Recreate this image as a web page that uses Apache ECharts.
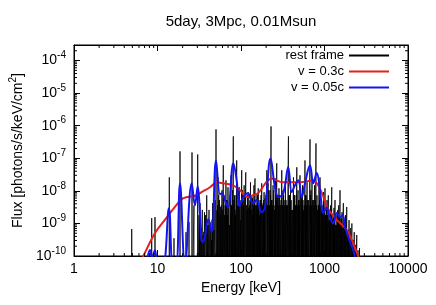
<!DOCTYPE html>
<html><head><meta charset="utf-8">
<script src="https://cdn.jsdelivr.net/npm/echarts@6/dist/echarts.min.js"></script>
<style>html,body{margin:0;padding:0;background:#fff}#c{width:436px;height:305px}</style>
</head><body><div id="c"></div>
<script>
const titleText = '5day, 3Mpc, 0.01Msun';
const seriesNames = ['rest frame', 'v = 0.3c', 'v = 0.05c'];
const xTickLabels = ['1', '10', '100', '1000', '10000'];
const xMin = 1, xMax = 10000;
const yMin = 1e-10, yMax = 3e-4;
const minorMantissas = [2, 3, 4, 5, 6, 7, 8, 9];
const xDecades = [1, 10, 100, 1000];
const yDecades = [1e-10, 1e-9, 1e-8, 1e-7, 1e-6, 1e-5, 1e-4];

// rest frame line spectrum: strong lines, energies (keV) and peak fluxes
const restE = [4.91, 8.52, 9.33, 13.85, 15.76, 18.6, 21.95, 23.84, 25.9, 27.36, 30.29,
  31.4, 32.3, 33.65, 35.1, 36.55, 38.85, 40.3, 42.5, 44.3, 45.7, 47.5, 50.2, 51.6, 53.0, 55.3, 57.1, 59.2, 61.4, 63.4, 66.1, 68.0, 69.9, 72.8, 75.9, 78.0, 80.9, 83.6, 85.9, 88.8, 92.1, 95.4, 98.6,
  102, 106, 109, 114, 118, 122, 126, 130, 135, 139, 143, 147, 153, 158, 161, 167, 171, 177, 184, 189, 194, 204, 211, 219, 223, 229, 235, 242, 252, 259, 268, 278, 285, 296, 308, 319, 328, 341, 351, 370, 381, 392, 406, 425, 437, 450, 466, 482, 495, 509, 531, 545, 561, 584, 601, 618, 640, 671, 689, 709, 735, 759, 791, 813, 843, 860, 884, 921, 947, 973,
  1014, 1043, 1072, 1111, 1148, 1180, 1221, 1265, 1300, 1336, 1385, 1432, 1480, 1534, 1577, 1621, 1682, 1737, 1785, 1846, 1913, 1967, 2039, 2128, 2196, 2270, 2353, 2433, 2521, 2628];
const restF = [6.7e-10, 1.45e-9, 1.56e-9, 2.6e-8, 3.5e-10, 1.63e-7, 5.4e-10, 1.1e-9, 1.51e-7, 3.6e-9, 1.31e-7,
  1.8e-9, 4.2e-9, 7.2e-10, 4.4e-10, 2.2e-9, 7.3e-9, 8.9e-10, 1.1e-9, 3.1e-10, 4.2e-9, 6.2e-10, 7.7e-7, 2.55e-9, 2.6e-8, 5.2e-9, 3.2e-9, 1.04e-8, 6.1e-8, 1.8e-9, 2.1e-8, 5.2e-9, 1.29e-8, 8.9e-10, 3.0e-8, 3.6e-9, 4.7e-7, 7.3e-9, 1.8e-9, 8.6e-8, 5.2e-9, 1.29e-8, 1.26e-9,
  4.3e-8, 5.2e-9, 1.48e-8, 3.7e-8, 2.55e-9, 9.1e-9, 3.6e-9, 1.83e-8, 7.3e-9, 1.8e-9, 1.48e-8, 2.4e-8, 3.6e-9, 7.3e-9, 1.2e-8, 1.8e-9, 5.2e-9, 1.7e-8, 4.2e-9, 9.1e-9, 5.9e-9, 4.3e-8, 1.7e-8, 3.6e-9, 1.04e-8, 9.5e-7, 5.2e-9, 1.48e-8, 2.55e-9, 2.4e-8, 7.0e-8, 7.3e-9, 1.2e-8, 3.6e-9, 4.3e-8, 1.04e-8, 5.2e-9, 2.1e-8, 3.6e-9, 4.7e-7, 7.3e-9, 1.48e-8, 2.55e-9, 2.6e-8, 7.3e-9, 3.6e-9, 5.3e-8, 1.04e-8, 5.2e-9, 3.0e-8, 5.9e-9, 1.48e-8, 2.55e-9, 8.6e-8, 7.3e-9, 1.83e-8, 5.2e-9, 3.8e-7, 1.04e-8, 2.4e-8, 5.2e-9, 1.48e-8, 2.86e-7, 7.3e-9, 3.6e-9, 1.48e-8, 2.6e-8, 5.2e-9, 2.55e-9, 9.1e-9,
  1.2e-8, 1.8e-9, 5.2e-9, 7.3e-9, 1.26e-9, 3.6e-9, 1.29e-8, 1.8e-9, 3.0e-9, 5.2e-9, 8.9e-10, 2.55e-9, 3.6e-9, 1.04e-8, 1.45e-9, 2.2e-9, 4.2e-9, 8.9e-10, 1.8e-9, 3.2e-9, 6.2e-10, 1.26e-9, 7.2e-10, 1.0e-9, 3.1e-10, 5.4e-10, 2.2e-10, 4.4e-10, 1.5e-10, 1.75e-10];
// rest frame: weaker lines between the strong ones
const restWeakE = [31.85, 32.95, 34.4, 35.8, 37.7, 39.6, 41.4, 43.4, 45.0, 46.6,
  48.8, 52.3, 54.1, 56.2, 58.1, 60.3, 62.4, 64.7, 67.0, 68.9,
  71.3, 74.3, 77.0, 79.4, 82.2, 84.7, 87.3, 90.4, 93.7, 97.0,
  100, 104, 107.5, 111.5, 116, 120, 124, 128, 132.5, 137,
  141, 145, 150, 155.5, 159.5, 164, 169, 174, 180.5, 186.5,
  191.5, 199, 207.5, 215, 221, 226, 232, 238.5, 247, 255.5,
  263.5, 273, 281.5, 290.5, 302, 313.5, 323.5, 334.5, 346, 360.5,
  375.5, 386.5, 399, 415.5, 431, 443.5, 458, 474, 488.5, 502,
  520, 538, 553, 572.5, 592.5, 609.5, 629, 655.5, 680, 699,
  722, 747, 775, 802, 828, 851.5, 872, 902.5, 934, 960,
  993.5, 1028, 1057.5, 1091.5, 1129.5, 1164, 1200.5, 1243, 1282.5, 1318,
  1360.5, 1408.5, 1456, 1507, 1555.5, 1599, 1651.5, 1709.5, 1761, 1815.5,
  1879.5, 1940, 2003, 2083.5, 2162, 2233, 2311.5, 2393, 2477];
const restWeakF = [1.8e-9, 9e-10, 2.6e-9, 5.5e-10, 1.8e-9, 9e-10, 2.6e-9, 7.2e-10, 1.3e-9, 3.6e-9,
  5.2e-9, 3.6e-9, 7.4e-9, 1.8e-9, 3.6e-9, 2.6e-9, 7.4e-9, 3.6e-9, 5.2e-9, 1.8e-9,
  3.6e-9, 7.4e-9, 3.6e-9, 1.05e-8, 5.2e-9, 2.6e-9, 7.4e-9, 3.6e-9, 1.05e-8, 3.6e-9,
  5.2e-9, 1.05e-8, 3.6e-9, 7.4e-9, 3.6e-9, 7.4e-9, 3.0e-9, 5.2e-9, 2.6e-9, 6.0e-9,
  3.6e-9, 5.2e-9, 3.6e-9, 7.4e-9, 2.6e-9, 5.2e-9, 3.6e-9, 7.4e-9, 3.6e-9, 5.2e-9,
  2.6e-9, 7.4e-9, 3.6e-9, 1.05e-8, 3.6e-9, 7.4e-9, 5.2e-9, 3.6e-9, 1.05e-8, 3.6e-9,
  5.2e-9, 7.4e-9, 3.6e-9, 7.4e-9, 5.2e-9, 3.6e-9, 7.4e-9, 3.6e-9, 5.2e-9, 3.6e-9,
  7.4e-9, 3.6e-9, 5.2e-9, 2.6e-9, 7.4e-9, 3.6e-9, 7.4e-9, 3.6e-9, 5.2e-9, 3.6e-9,
  7.4e-9, 3.6e-9, 5.2e-9, 3.6e-9, 7.4e-9, 3.6e-9, 5.2e-9, 3.6e-9, 7.4e-9, 3.6e-9,
  5.2e-9, 3.6e-9, 5.2e-9, 3.6e-9, 2.6e-9, 3.6e-9, 5.2e-9, 3.6e-9, 2.6e-9, 3.6e-9,
  2.6e-9, 1.8e-9, 2.6e-9, 1.8e-9, 1.3e-9, 1.8e-9, 2.6e-9, 1.3e-9, 1.8e-9, 1.3e-9,
  9e-10, 1.8e-9, 1.1e-9, 1.5e-9, 9e-10, 1.3e-9, 7.2e-10, 1.1e-9, 5.5e-10, 9e-10,
  4.5e-10, 4.5e-10, 2.7e-10, 3.1e-10, 1.8e-10, 1.6e-10, 1.4e-10, 1.2e-10, 1.05e-10];
const restBase = 1e-12;

// v = 0.3c
const redE = [6.17, 6.76, 9.3, 13.0, 17.6, 20.2, 29.7, 32.3, 42.5, 51.6, 60.9, 80.2, 97.3, 118, 139, 160, 233, 318, 509, 728, 933, 1070, 1410, 1860, 2450, 2700];
const redF = [6.6e-11, 1.0e-10, 5.0e-10, 1.56e-9, 4.2e-9, 5.9e-9, 7.3e-9, 8.5e-9, 1.29e-8, 1.83e-8, 1.7e-8, 1.48e-8, 1.04e-8, 6.5e-9, 7.3e-9, 8.5e-9, 2.38e-8, 1.83e-8, 1.83e-8, 2.1e-8, 8.5e-9, 3.2e-9, 1.26e-9, 6.2e-10, 1.24e-10, 6e-11];

// v = 0.05c
const blueE = [7.28, 8.13, 8.59, 9.33, 10.1, 11.6, 13.7, 15.3, 16.7, 18.6, 21.3, 25.7, 28.1, 30.3, 32.3, 33.6, 35.1, 37.0, 40.6, 44.6, 50.2, 56.1, 59.2, 64.3, 69.9, 80.9, 88.9, 95.9, 107, 121, 139, 154, 177, 194, 226, 255, 280, 321, 368, 405, 443, 486, 533, 584, 670, 734, 807, 883, 968, 1060, 1160, 1270, 1400, 1530, 1650, 1760, 1930, 2020, 2210, 2320, 2450];
const blueF = [5e-11, 1.52e-10, 9e-11, 1.5e-10, 5e-11, 5e-11, 2.9e-9, 5e-11, 5e-11, 1.7e-8, 5e-11, 1.7e-8, 3.6e-9, 1.38e-8, 1.8e-9, 3.1e-10, 2.7e-10, 4.1e-10, 1.35e-9, 5.4e-10, 8.6e-8, 7.9e-9, 8.5e-9, 5.2e-9, 3.1e-9, 7.0e-8, 2.0e-8, 3.4e-9, 6.4e-9, 8.5e-9, 4.2e-9, 5.2e-9, 2.2e-9, 3.1e-9, 9.9e-8, 1.29e-8, 6.4e-9, 8.5e-9, 5.3e-8, 9.1e-9, 1.48e-8, 2.1e-8, 6.4e-9, 1.7e-8, 6.1e-8, 1.7e-8, 3.5e-8, 1.04e-8, 2.1e-9, 3.1e-9, 1.56e-9, 1.0e-9, 2.1e-9, 1.56e-9, 1.8e-9, 7.7e-10, 3.8e-10, 2.7e-10, 1.5e-10, 9.5e-11, 6.5e-11];

const FONT = "'Liberation Sans', Arial, Helvetica, sans-serif";

const restData = [];
restE.forEach((e, i) => { restData.push([e, restBase], [e, restF[i]], [e, restBase]); });
restWeakE.forEach((e, i) => { restData.push([e, restBase], [e, restWeakF[i]], [e, restBase]); });
const redData = redE.map((e, i) => [e, redF[i]]);
const blueData = blueE.map((e, i) => [e, blueF[i]]);

const xMinor = [];
xDecades.forEach(d => minorMantissas.forEach(m => xMinor.push([d * m, 1e-9])));
const yMinor = [];
yDecades.forEach(d => minorMantissas.forEach(m => { if (d * m <= yMax) yMinor.push([2, d * m]); }));

function isPow(v) { const e = Math.log10(v); return Math.abs(e - Math.round(e)) < 1e-6; }

const tickStyle = { stroke: '#000', lineWidth: 1 };
const minorLen = 3;

const chart = echarts.init(document.getElementById('c'), null, { renderer: 'canvas' });
const axisCommon = {
  axisLine: { show: true, lineStyle: { color: '#000', width: 1 } },
  axisTick: { show: true, inside: true, length: 6, lineStyle: { color: '#000', width: 1 } },
  splitLine: { show: false },
  minorTick: { show: false }
};
chart.setOption({
  animation: false,
  backgroundColor: '#fff',
  textStyle: { fontFamily: FONT },
  title: {
    text: titleText, left: 241, top: 14, textAlign: 'center', padding: 0,
    textStyle: { fontSize: 15, fontWeight: 'normal', color: '#000', fontFamily: FONT }
  },
  legend: {
    data: seriesNames, orient: 'vertical', right: 46, top: 49, align: 'right',
    itemWidth: 40, itemHeight: 14, itemGap: 3, padding: 0,
    itemStyle: { opacity: 0 },
    textStyle: { fontSize: 13, color: '#000', fontFamily: FONT }
  },
  grid: { left: 74, right: 28, top: 45, bottom: 49, containLabel: false, outerBoundsMode: 'none',
    show: true, borderColor: '#000', borderWidth: 1, backgroundColor: 'transparent' },
  xAxis: [
    Object.assign({}, axisCommon, {
      type: 'log', logBase: 10, min: xMin, max: xMax, position: 'bottom',
      axisLabel: { show: true, margin: 6, fontSize: 14, color: '#000', fontFamily: FONT,
        formatter: v => isPow(v) ? xTickLabels[Math.round(Math.log10(v))] : '' },
      name: 'Energy [keV]', nameLocation: 'middle', nameGap: 24,
      nameTextStyle: { fontSize: 14, color: '#000', fontFamily: FONT }
    }),
    Object.assign({}, axisCommon, {
      type: 'log', logBase: 10, min: xMin, max: xMax, position: 'top',
      axisLabel: { show: false }
    })
  ],
  yAxis: [
    Object.assign({}, axisCommon, {
      type: 'log', logBase: 10, min: yMin, max: yMax, position: 'left',
      axisLabel: { show: true, margin: 8, color: '#000', fontFamily: FONT,
        formatter: v => isPow(v) ? '{b|10}{s|' + Math.round(Math.log10(v)) + '}' : '',
        rich: {
          b: { fontSize: 14, lineHeight: 20, color: '#000', fontFamily: FONT },
          s: { fontSize: 10, lineHeight: 10, verticalAlign: 'top', color: '#000', fontFamily: FONT }
        } },
      name: '{a|Flux [photons/s/keV/cm}{s|2}{a|]}', nameLocation: 'middle', nameRotate: 90, nameGap: 46,
      nameTextStyle: { color: '#000', fontFamily: FONT, rich: {
        a: { fontSize: 14, lineHeight: 20, color: '#000', fontFamily: FONT },
        s: { fontSize: 10, lineHeight: 10, verticalAlign: 'top', color: '#000', fontFamily: FONT }
      } }
    }),
    Object.assign({}, axisCommon, {
      type: 'log', logBase: 10, min: yMin, max: yMax, position: 'right',
      axisLabel: { show: false }
    })
  ],
  series: [
    { name: seriesNames[0], type: 'line', data: restData, symbol: 'none', showSymbol: false,
      clip: true, lineStyle: { color: '#000', width: 0.8 }, itemStyle: { color: '#000' }, z: 2, silent: true },
    { name: seriesNames[1], type: 'line', data: redData, symbol: 'none', showSymbol: false, smooth: 0.35,
      clip: true, lineStyle: { color: '#e3201b', width: 2 }, itemStyle: { color: '#e3201b' }, z: 3, silent: true },
    { name: seriesNames[2], type: 'line', data: blueData, symbol: 'none', showSymbol: false, smooth: 0.4,
      clip: true, lineStyle: { color: '#1414f0', width: 2 }, itemStyle: { color: '#1414f0' }, z: 4, silent: true },
    { type: 'custom', data: xMinor, silent: true, z: 5, encode: { x: 0, y: 1 },
      renderItem: function (params, api) {
        const cs = params.coordSys;
        const x = api.coord([api.value(0), 1e-9])[0];
        return { type: 'group', children: [
          { type: 'line', shape: { x1: x, y1: cs.y + cs.height, x2: x, y2: cs.y + cs.height - minorLen }, style: tickStyle },
          { type: 'line', shape: { x1: x, y1: cs.y, x2: x, y2: cs.y + minorLen }, style: tickStyle }
        ] };
      } },
    { type: 'custom', data: yMinor, silent: true, z: 5, encode: { x: 0, y: 1 },
      renderItem: function (params, api) {
        const cs = params.coordSys;
        const y = api.coord([2, api.value(1)])[1];
        return { type: 'group', children: [
          { type: 'line', shape: { x1: cs.x, y1: y, x2: cs.x + minorLen, y2: y }, style: tickStyle },
          { type: 'line', shape: { x1: cs.x + cs.width, y1: y, x2: cs.x + cs.width - minorLen, y2: y }, style: tickStyle }
        ] };
      } }
  ]
});
</script>
</body></html>
